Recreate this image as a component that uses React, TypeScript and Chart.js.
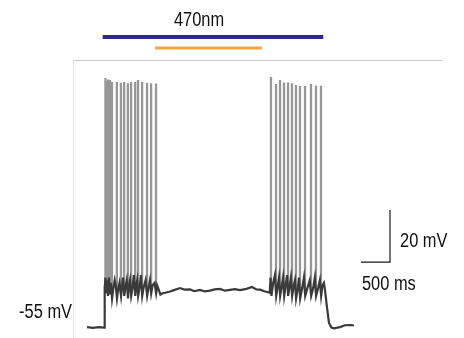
import React, { useEffect, useRef } from "react";
import { Chart, registerables } from "chart.js";

Chart.register(...registerables);

// Membrane potential trace (time in ms, potential in mV)
const traceTimes = [
  0, 100, 200, 295, 305, 318,
  330, 345, 362, 378, 397, 412, 432, 455, 478, 495, 517, 540, 560, 587, 605, 622, 642, 660, 685, 707, 725, 742, 762, 785, 808, 832, 850, 865, 882, 905, 930, 952, 975, 1010, 1037, 1060, 1085, 1107, 1130, 1165, 1192, 1210, 1235, 1265, 1300,
  1350, 1431, 1500, 1603, 1680, 1776, 1850, 1948, 2030, 2121, 2200, 2293, 2380, 2466, 2550, 2638, 2750, 2845, 2920, 2983, 3060, 3121, 3150,
  3165, 3180, 3210, 3240, 3262, 3290, 3310, 3330, 3360, 3380, 3400, 3425, 3450, 3468, 3495, 3515, 3537, 3565, 3585, 3605, 3635, 3655, 3675, 3710, 3740, 3762, 3800, 3840, 3865, 3900, 3928, 3950, 3985, 4015, 4037, 4060, 4085,
  4103, 4130, 4172, 4215, 4259, 4320, 4362, 4448, 4550, 4603,
];
const traceMv = [
  -55, -55.3, -55, -55.2, -40, -36,
  -42, -37, -43, -36, -42, -38, -44, -40, -37, -39, -44, -40, -38, -43, -39, -36, -43, -40, -37, -44, -39, -37, -43, -40, -35, -43, -39, -37, -43, -40, -35, -43, -40, -37, -43, -40, -37, -42, -39, -38, -42, -39, -40.5, -42.5, -42,
  -41.8, -41.3, -40.8, -40, -40.6, -40.5, -41.2, -40.7, -41.3, -41, -40.5, -40.3, -41, -40.7, -40.4, -40.8, -40.3, -39.6, -40.5, -40.6, -41.2, -41.6, -41.8,
  -36, -43, -38, -35, -43, -39, -36, -43, -39, -36, -43, -39, -35, -43, -39, -36, -43, -39, -37, -44, -40, -36, -44, -40, -36, -43, -40, -37, -43, -40, -36, -43, -40, -37, -43, -39, -38,
  -40.7, -46, -53.4, -55.2, -55.5, -55.2, -55, -54.3, -54.2, -54.4,
];

// Action potentials (time of spike, peak potential)
const burst1SpikeTimes = [318, 340, 365, 395, 430, 515, 585, 640, 705, 760, 830, 880, 950, 1035, 1105, 1190];
const burst1SpikePeaks = [40.8, 39.5, 40.2, 40, 39.3, 39.3, 39, 39.3, 38.8, 39.3, 39.3, 40, 39.3, 39, 38.8, 38.7];
const burst2SpikeTimes = [3172, 3259, 3328, 3397, 3466, 3534, 3603, 3672, 3759, 3862, 3948, 4034];
const burst2SpikePeaks = [41.2, 38.5, 40, 39.1, 39.1, 38.8, 38.1, 37.7, 37.7, 38.5, 37.8, 37.8];
const spikeBaseMv = -42;

// Light stimuli [start, end] in ms
const blueLight = [270, 4074];
const orangeLight = [1172, 3017];
const blueLevel = 56.6;
const orangeLevel = 52.3;

// Scale bar: 500 ms, 20 mV
const scaleBarTimes = [4724, 5224, 5224];
const scaleBarMv = [-30, -30, -10];

const labels = {
  light: "470nm",
  rest: "-55 mV",
  volt: "20 mV",
  time: "500 ms",
};

const FONT = '20px "Liberation Sans", Arial, sans-serif';
const NARROW = 0.82;

function spikeData(times: number[], peaks: number[]) {
  const out: { x: number; y: number | null }[] = [];
  times.forEach((t, i) => {
    out.push({ x: t, y: spikeBaseMv });
    out.push({ x: t, y: peaks[i] });
    out.push({ x: t, y: null });
  });
  return out;
}

function narrowText(ctx: CanvasRenderingContext2D, text: string, x: number, y: number) {
  ctx.save();
  ctx.translate(x, y);
  ctx.scale(NARROW, 1);
  ctx.fillText(text, 0, 0);
  ctx.restore();
}

const textPlugin = {
  id: "textLabels",
  afterDatasetsDraw(chart: any) {
    const { ctx, scales } = chart;
    const xs = scales.x;
    const ys = scales.y;
    ctx.save();
    ctx.font = FONT;
    ctx.fillStyle = "#111";
    ctx.textBaseline = "alphabetic";
    ctx.textAlign = "center";
    narrowText(ctx, labels.light, xs.getPixelForValue(1931), ys.getPixelForValue(60.8));
    ctx.textAlign = "right";
    narrowText(ctx, labels.rest, xs.getPixelForValue(-259), ys.getPixelForValue(-51.5));
    ctx.textAlign = "left";
    narrowText(ctx, labels.volt, xs.getPixelForValue(5397), ys.getPixelForValue(-24.1));
    narrowText(ctx, labels.time, xs.getPixelForValue(4741), ys.getPixelForValue(-40.7));
    ctx.restore();
  },
};

export default function App() {
  const ref = useRef<HTMLCanvasElement | null>(null);
  useEffect(() => {
    if (!ref.current) return;
    const chart = new Chart(ref.current, {
      type: "line",
      data: {
        datasets: [
          {
            label: "trace",
            data: traceTimes.map((t, i) => ({ x: t, y: traceMv[i] })),
            borderColor: "#3a3a3a",
            borderWidth: 2.2,
            pointRadius: 0,
            tension: 0,
            order: 0,
            clip: false as any,
          },
          {
            label: "spikes1",
            data: spikeData(burst1SpikeTimes, burst1SpikePeaks),
            borderColor: "rgba(125,125,125,0.8)",
            borderWidth: 2.3,
            pointRadius: 0,
            spanGaps: false,
            order: 1,
            clip: false as any,
          },
          {
            label: "spikes2",
            data: spikeData(burst2SpikeTimes, burst2SpikePeaks),
            borderColor: "rgba(125,125,125,0.8)",
            borderWidth: 2.3,
            pointRadius: 0,
            spanGaps: false,
            order: 1,
            clip: false as any,
          },
          {
            label: "blue",
            data: blueLight.map((t) => ({ x: t, y: blueLevel })),
            borderColor: "#2e2a86",
            borderWidth: 4,
            pointRadius: 0,
            order: 2,
            clip: false as any,
          },
          {
            label: "orange",
            data: orangeLight.map((t) => ({ x: t, y: orangeLevel })),
            borderColor: "#f5a53e",
            borderWidth: 3,
            pointRadius: 0,
            order: 2,
            clip: false as any,
          },
          {
            label: "scale",
            data: scaleBarTimes.map((t, i) => ({ x: t, y: scaleBarMv[i] })),
            borderColor: "#1a1a1a",
            borderWidth: 1.2,
            pointRadius: 0,
            order: 2,
            clip: false as any,
          },
        ],
      },
      options: {
        animation: false,
        responsive: false,
        layout: { padding: { top: 60, left: 73, right: 23, bottom: 0 } },
        plugins: { legend: { display: false }, tooltip: { enabled: false } },
        scales: {
          x: {
            type: "linear",
            position: "top",
            min: -241.4,
            max: 6103.4,
            ticks: { display: false },
            grid: { display: false, drawTicks: false },
            border: { display: true, color: "#c8c8c8", width: 1 },
          },
          y: {
            type: "linear",
            min: -59.2,
            max: 47.72,
            ticks: { display: false },
            grid: { display: false, drawTicks: false },
            border: { display: true, color: "#e4e4e4", width: 1 },
          },
        },
      },
      plugins: [textPlugin],
    });
    return () => chart.destroy();
  }, []);
  return (
    <div style={{ position: "absolute", left: 0, top: 0, width: 464, height: 338, background: "#fff" }}>
      <canvas ref={ref} width={464} height={338} />
    </div>
  );
}
